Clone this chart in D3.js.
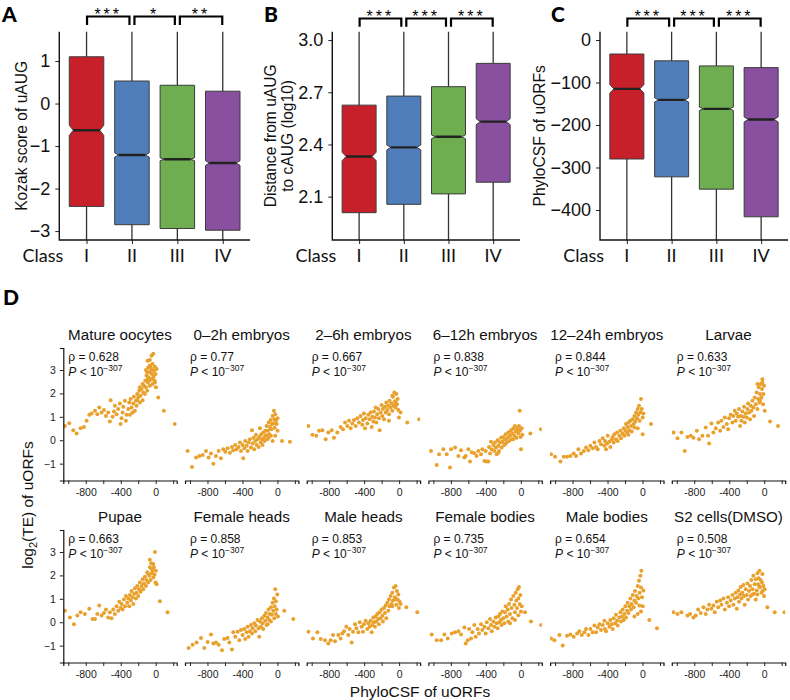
<!DOCTYPE html>
<html><head><meta charset="utf-8">
<script src="https://cdn.jsdelivr.net/npm/d3@7"></script>
<style>body{margin:0;background:#fff}svg{display:block}</style>
</head><body>
<script>
// ---------- Box panels data ----------
const classes = ["I","II","III","IV"];
const classColors = ["#C8202A","#4F7EBA","#6EAE51","#88509F"];

const kozakQ1 = [-2.42,-2.85,-2.94,-2.98];
const kozakMed = [-0.63,-1.21,-1.31,-1.40];
const kozakQ3 = [1.10,0.53,0.43,0.29];
const kozakNotch = [0.12,0.05,0.035,0.055];
const kozakWhiskerLo = [-4.0,-4.0,-4.0,-4.0];
const kozakWhiskerHi = [2.5,2.5,2.5,2.5];
const kozakTicks = [-3,-2,-1,0,1];
const kozakSig = ["***","*","**"];

const distQ1 = [2.008,2.056,2.116,2.183];
const distMed = [2.331,2.383,2.444,2.531];
const distQ3 = [2.626,2.678,2.732,2.866];
const distNotch = [0.024,0.014,0.011,0.017];
const distWhiskerLo = [1.5,1.5,1.5,1.5];
const distWhiskerHi = [3.5,3.5,3.5,3.5];
const distTicks = [2.1,2.4,2.7,3.0];
const distSig = ["***","***","***"];

const phyloQ1 = [-280,-322,-351,-416];
const phyloMed = [-115,-141,-162,-187];
const phyloQ3 = [-33,-49,-61,-65];
const phyloNotch = [10,5,4,6];
const phyloWhiskerLo = [-600,-600,-600,-600];
const phyloWhiskerHi = [100,100,100,100];
const phyloTicks = [-400,-300,-200,-100,0];
const phyloSig = ["***","***","***"];

// ---------- Scatter panels data ----------
const stageNames = ["Mature oocytes","0\u20132h embryos","2\u20136h embryos","6\u201312h embryos","12\u201324h embryos","Larvae",
  "Pupae","Female heads","Male heads","Female bodies","Male bodies","S2 cells(DMSO)"];
const rhoValues = ["0.628","0.77","0.667","0.838","0.844","0.633","0.663","0.858","0.853","0.735","0.654","0.508"];
const scatterXTicks = [-1000,-800,-600,-400,-200,0,200];
const scatterXLabels = [-800,-400,0];
const scatterYTicks = [-1,0,1,2,3];

const ptsMatureOocytes = [[-1038,0.61],[-989,0.73],[-943,0.43],[-905,0.29],[-859,0.51],[-821,0.57],[-790,0.83],[-760,1.09],[-733,1.14],[-695,1.26],[-668,1.11],[-646,1.4],[-619,1.19],[-592,1.29],[-569,1.04],[-543,1.19],[-524,0.8],[-516,1.71],[-493,1.0],[-478,1.23],[-467,1.47],[-448,1.11],[-429,1.33],[-410,1.57],[-402,0.69],[-390,0.94],[-379,1.19],[-371,1.43],[-352,1.69],[-341,0.83],[-333,1.09],[-314,1.33],[-303,1.61],[-295,1.09],[-288,1.76],[-276,1.4],[-265,1.19],[-257,1.57],[-250,1.86],[-238,1.26],[-227,1.69],[-219,1.47],[-211,1.97],[-200,1.83],[-189,2.11],[-181,1.61],[-173,1.9],[-162,2.19],[-150,1.71],[-143,2.04],[-135,2.33],[-124,1.97],[-120,2.54],[-112,2.26],[-105,2.76],[-97,2.11],[-90,2.47],[-86,3.11],[-82,2.69],[-74,2.9],[-67,2.33],[-67,3.19],[-59,2.61],[-51,3.0],[-48,3.61],[-44,2.83],[-36,2.4],[-36,3.26],[-28,2.69],[-28,3.69],[-21,2.97],[-13,2.54],[-9,3.14],[-2,2.83],[2,2.26],[10,3.04],[29,1.83],[93,1.26],[219,0.69],[-112,3.0],[-97,2.9],[-74,2.54],[-59,3.11],[-44,2.61],[-21,2.76],[-9,2.47],[-94,3.4],[-67,3.43],[-44,3.04],[-97,2.57],[-150,2.4],[-181,2.26],[-211,1.71]];
const ptsEmb0to2 = [[-1027,-0.46],[-977,-1.14],[-931,-0.74],[-893,-0.67],[-855,-0.63],[-817,-0.46],[-787,-0.74],[-760,-0.57],[-733,-1.0],[-703,-0.67],[-672,-0.46],[-646,-0.77],[-619,-0.39],[-596,-0.49],[-570,-0.34],[-543,-0.53],[-520,-0.29],[-505,-0.43],[-482,-0.2],[-467,-0.39],[-444,-0.29],[-429,-0.1],[-417,-0.46],[-398,-0.2],[-391,-0.77],[-379,-0.34],[-368,-0.03],[-352,-0.24],[-341,-0.46],[-330,-0.1],[-314,0.04],[-303,-0.31],[-291,0.43],[-284,-0.14],[-272,0.11],[-265,-0.39],[-253,-0.03],[-246,0.23],[-238,-0.2],[-227,0.04],[-215,-0.29],[-208,0.14],[-200,0.51],[-192,-0.1],[-185,0.26],[-177,0.04],[-170,-0.2],[-162,0.33],[-154,0.11],[-147,-0.03],[-139,0.4],[-131,0.21],[-124,0.61],[-116,0.04],[-109,0.4],[-101,0.76],[-93,0.26],[-86,0.57],[-78,0.86],[-70,0.47],[-63,0.69],[-55,1.04],[-48,0.71],[-40,1.26],[-36,0.9],[-32,0.53],[-25,1.11],[-17,0.83],[-9,0.69],[2,0.94],[-25,0.19],[-55,-0.03],[-101,0.11],[52,-0.03],[143,-0.06],[2,0.4],[-74,0.19]];
const ptsEmb2to6 = [[-1038,0.61],[-992,0.23],[-947,0.19],[-916,0.4],[-878,0.43],[-840,0.04],[-810,0.33],[-771,0.43],[-745,0.11],[-707,0.33],[-669,0.57],[-642,0.47],[-619,0.76],[-592,0.61],[-573,0.83],[-554,0.51],[-535,0.71],[-516,0.86],[-497,0.61],[-478,0.94],[-459,0.76],[-440,1.04],[-421,0.66],[-413,0.86],[-402,1.14],[-390,0.51],[-383,0.94],[-364,0.71],[-352,1.09],[-337,0.9],[-326,1.19],[-314,0.57],[-307,1.0],[-295,0.8],[-288,1.23],[-276,0.97],[-269,1.4],[-261,0.76],[-250,1.11],[-238,1.33],[-231,0.94],[-223,0.43],[-211,1.19],[-200,1.51],[-192,1.04],[-185,1.33],[-173,0.9],[-162,1.43],[-154,1.19],[-147,1.61],[-135,1.29],[-124,1.47],[-116,1.11],[-109,1.69],[-97,1.4],[-86,1.57],[-78,1.26],[-70,1.86],[-63,1.47],[-55,2.04],[-48,1.66],[-40,1.4],[-32,1.97],[-25,1.54],[-17,1.76],[-9,1.29],[-2,0.97],[17,1.19],[93,0.76],[230,0.9],[-116,0.83],[-78,1.9],[-40,1.61]];
const ptsEmb6to12 = [[-1027,-0.46],[-962,-1.06],[-935,-0.6],[-886,-0.39],[-848,-0.6],[-810,-1.17],[-798,-0.39],[-752,-0.31],[-714,-0.67],[-684,-0.43],[-646,-0.74],[-630,-0.67],[-600,-0.39],[-581,-0.91],[-562,-0.51],[-532,-0.56],[-505,-0.67],[-486,-0.46],[-455,-0.6],[-440,-0.39],[-417,-0.89],[-402,-0.46],[-390,-0.91],[-371,-0.91],[-364,-0.29],[-352,-0.57],[-341,-0.06],[-333,-0.39],[-314,-0.2],[-303,-0.46],[-295,-0.1],[-284,-0.31],[-276,-0.6],[-265,0.0],[-257,-0.24],[-250,-0.46],[-238,-0.1],[-227,0.11],[-219,-0.31],[-211,-0.06],[-200,0.14],[-189,-0.2],[-181,0.04],[-173,0.26],[-162,-0.1],[-150,0.11],[-143,0.33],[-135,-0.03],[-124,0.19],[-112,0.43],[-105,0.04],[-97,0.29],[-86,0.51],[-74,0.19],[-67,0.61],[-59,0.37],[-48,0.11],[-36,0.51],[-28,0.29],[-21,0.61],[-13,1.26],[-9,0.4],[-2,0.14],[10,0.51],[17,0.23],[2,-0.39],[109,0.29],[230,0.47],[-86,0.04],[-48,0.4],[-181,-0.17],[-257,-0.53]];
const ptsEmb12to24 = [[-1046,-0.6],[-1000,-0.71],[-939,-0.91],[-901,-0.71],[-863,-0.71],[-825,-0.67],[-787,-0.57],[-760,-0.67],[-733,-0.39],[-703,-0.57],[-672,-0.46],[-646,-0.31],[-619,-0.43],[-596,-0.24],[-570,-0.34],[-550,-0.1],[-531,-0.29],[-512,-0.39],[-493,-0.03],[-474,-0.17],[-455,0.09],[-436,-0.24],[-429,-0.03],[-417,-0.39],[-406,-0.14],[-398,0.19],[-379,-0.06],[-368,-0.29],[-352,0.04],[-341,0.14],[-330,-0.1],[-322,0.26],[-303,0.04],[-291,0.33],[-284,-0.03],[-265,0.19],[-253,0.4],[-246,0.09],[-227,0.29],[-215,0.51],[-208,0.19],[-196,0.4],[-189,0.69],[-177,0.33],[-170,0.57],[-158,0.76],[-150,0.43],[-139,0.83],[-131,0.61],[-124,0.37],[-112,0.9],[-101,0.69],[-93,1.04],[-82,0.8],[-74,1.19],[-63,0.94],[-55,1.33],[-48,1.09],[-40,1.47],[-32,0.83],[-25,1.19],[-17,1.76],[-9,1.33],[2,0.97],[10,1.14],[2,0.26],[-55,0.51],[97,0.69],[-93,0.54],[-162,0.23]];
const ptsLarvae = [[-1038,0.33],[-992,0.09],[-947,0.33],[-909,-0.46],[-878,0.14],[-840,0.19],[-810,0.11],[-771,0.4],[-745,0.04],[-707,0.19],[-669,0.54],[-642,0.19],[-630,-0.14],[-604,0.71],[-581,0.33],[-554,0.51],[-527,0.76],[-504,0.4],[-489,0.83],[-466,0.57],[-451,0.97],[-428,0.69],[-413,0.47],[-402,0.94],[-383,1.09],[-364,0.76],[-352,1.04],[-337,1.26],[-326,0.83],[-314,1.14],[-299,1.0],[-288,1.33],[-276,0.61],[-269,1.04],[-261,0.83],[-250,1.23],[-238,1.0],[-231,1.43],[-223,0.76],[-211,1.14],[-200,0.97],[-192,1.33],[-185,1.57],[-173,1.19],[-162,0.9],[-154,1.47],[-147,1.26],[-135,1.69],[-124,1.4],[-116,1.04],[-109,1.83],[-97,1.54],[-86,2.04],[-78,1.33],[-70,1.76],[-63,2.26],[-55,1.61],[-48,1.97],[-40,2.4],[-32,1.83],[-25,2.19],[-21,2.61],[-13,1.54],[-9,1.97],[-2,2.33],[6,1.26],[67,0.8],[158,0.61],[-78,2.4],[-48,1.69],[-21,2.47]];
const ptsPupae = [[-1038,0.49],[-981,0.2],[-935,-0.09],[-897,0.29],[-859,0.43],[-810,0.35],[-760,0.58],[-722,0.14],[-695,0.14],[-668,0.35],[-646,0.72],[-619,0.29],[-592,0.39],[-569,0.54],[-543,0.2],[-524,0.43],[-505,0.17],[-486,0.54],[-467,0.35],[-448,0.68],[-429,0.49],[-417,0.87],[-402,0.61],[-390,0.78],[-379,0.54],[-364,0.97],[-352,0.68],[-341,1.12],[-326,0.83],[-314,1.01],[-303,0.68],[-295,1.16],[-284,0.93],[-276,1.33],[-265,1.07],[-257,0.78],[-246,1.22],[-238,1.45],[-227,1.01],[-219,1.26],[-211,1.55],[-200,1.12],[-189,1.41],[-181,1.7],[-173,1.3],[-162,1.55],[-150,1.84],[-143,1.41],[-135,1.65],[-124,1.94],[-112,1.55],[-105,1.8],[-97,2.13],[-86,1.7],[-74,1.99],[-67,2.35],[-59,1.8],[-51,2.52],[-44,2.09],[-36,2.2],[-28,1.91],[-21,2.35],[-13,2.03],[-9,3.0],[-2,1.7],[2,2.2],[10,1.62],[48,0.9],[135,0.43],[-67,2.67],[-48,2.28],[-86,2.06],[-28,2.49]];
const ptsFemaleHeads = [[-1015,-1.1],[-970,-0.96],[-924,-0.87],[-874,-0.67],[-836,-1.1],[-798,-0.84],[-760,-0.52],[-733,-0.91],[-703,-0.87],[-672,-0.96],[-634,-1.2],[-608,-0.72],[-570,-0.67],[-550,-0.87],[-520,-1.16],[-505,-0.43],[-482,-0.62],[-455,-0.41],[-436,-0.77],[-417,-0.33],[-398,-0.55],[-379,-0.29],[-368,-0.72],[-352,-0.43],[-341,-0.19],[-330,-0.62],[-314,-0.38],[-303,-0.12],[-291,-0.48],[-284,-0.26],[-265,-0.04],[-253,-0.38],[-246,-0.14],[-227,0.1],[-215,-0.26],[-208,-0.62],[-200,0.03],[-189,-0.19],[-177,0.17],[-170,-0.04],[-162,-0.29],[-150,0.28],[-139,0.06],[-131,0.39],[-124,-0.12],[-112,0.2],[-101,0.54],[-93,0.1],[-86,0.35],[-74,0.64],[-63,0.32],[-55,0.83],[-48,0.49],[-40,1.01],[-32,0.68],[-25,1.41],[-17,0.9],[-9,0.54],[-2,1.19],[6,0.25],[-36,0.17],[78,0.49],[181,0.14],[-74,0.03],[-112,-0.09],[-17,0.35]];
const ptsMaleHeads = [[-1038,-0.41],[-985,-0.7],[-935,-0.43],[-897,-0.72],[-848,-0.77],[-810,-0.91],[-783,-0.77],[-756,-0.55],[-733,-0.81],[-695,-0.55],[-669,-0.7],[-650,-0.48],[-630,-0.38],[-604,-0.19],[-581,-0.55],[-566,-0.29],[-543,-0.87],[-527,-0.41],[-504,-0.09],[-489,-0.26],[-466,-0.43],[-451,0.0],[-428,-0.19],[-413,-0.41],[-402,-0.09],[-383,0.06],[-364,-0.29],[-352,-0.04],[-337,-0.19],[-326,0.06],[-314,-0.43],[-307,-0.12],[-295,0.2],[-288,0.0],[-276,-0.19],[-269,0.25],[-261,0.03],[-250,0.35],[-238,0.14],[-231,-0.09],[-223,0.43],[-211,0.17],[-200,0.54],[-192,0.28],[-185,0.03],[-173,0.61],[-162,0.39],[-154,0.72],[-147,0.17],[-135,0.83],[-124,0.49],[-116,0.97],[-109,0.68],[-97,1.12],[-86,0.78],[-78,1.26],[-70,0.93],[-59,1.48],[-48,1.07],[-40,1.55],[-32,0.75],[-25,1.33],[-17,0.97],[-9,1.19],[-2,0.61],[6,0.87],[82,0.64],[208,0.43],[-78,0.68],[-40,0.97],[17,0.78]];
const ptsFemaleBodies = [[-1019,-0.52],[-962,-0.77],[-912,-0.77],[-874,-0.52],[-836,-0.7],[-790,-0.48],[-752,-0.43],[-714,-0.38],[-684,-0.52],[-646,-0.23],[-630,-0.91],[-607,-0.77],[-592,-0.29],[-569,-0.7],[-554,-0.43],[-532,-0.12],[-516,-0.62],[-493,-0.29],[-478,-0.48],[-455,-0.09],[-440,-0.33],[-417,-0.19],[-402,-0.48],[-390,0.0],[-371,-0.26],[-352,0.14],[-341,-0.12],[-333,-0.38],[-314,0.03],[-303,-0.19],[-288,0.2],[-276,-0.04],[-265,-0.26],[-257,0.25],[-246,0.0],[-238,0.35],[-227,0.1],[-219,-0.12],[-211,0.46],[-200,0.17],[-189,-0.04],[-181,0.43],[-173,0.68],[-162,0.25],[-150,0.54],[-143,0.03],[-135,0.78],[-124,0.35],[-112,0.97],[-105,0.61],[-97,0.17],[-86,1.12],[-74,0.75],[-67,0.43],[-59,1.26],[-51,0.93],[-44,0.61],[-36,1.41],[-28,1.01],[-21,1.51],[-13,0.78],[-6,1.16],[2,0.46],[10,0.68],[48,0.43],[116,0.03],[232,-0.12],[-67,0.1],[-124,-0.04],[-28,0.3]];
const ptsMaleBodies = [[-1046,-0.7],[-1008,-0.77],[-950,-0.55],[-912,-0.99],[-863,-0.58],[-825,-0.52],[-787,-0.62],[-748,-0.48],[-722,-0.38],[-695,-0.55],[-665,-0.43],[-646,-0.29],[-619,-0.55],[-596,-0.29],[-570,-0.43],[-550,-0.14],[-531,-0.43],[-512,-0.23],[-493,-0.09],[-474,-0.33],[-455,-0.12],[-436,0.06],[-429,-0.29],[-417,-0.38],[-398,-0.04],[-379,-0.19],[-368,0.1],[-352,-0.09],[-341,-0.29],[-330,0.17],[-314,-0.04],[-303,0.32],[-291,0.06],[-284,-0.14],[-265,0.2],[-253,0.43],[-246,0.03],[-234,0.25],[-227,0.54],[-215,0.1],[-208,0.35],[-196,0.68],[-189,0.2],[-177,0.49],[-170,0.83],[-162,0.39],[-150,0.68],[-139,1.01],[-131,0.54],[-124,0.78],[-112,1.16],[-101,0.64],[-93,0.93],[-86,1.33],[-74,0.83],[-67,1.12],[-55,1.55],[-48,1.01],[-40,1.77],[-32,1.26],[-25,1.99],[-17,1.48],[-13,2.2],[-6,1.07],[2,0.68],[10,1.36],[-17,0.46],[78,0.1],[166,-0.26],[-55,0.35],[-93,0.25],[-36,0.72]];
const ptsS2Cells = [[-1038,0.43],[-992,0.35],[-947,0.43],[-878,0.29],[-848,0.35],[-810,0.2],[-783,0.29],[-756,0.54],[-726,0.39],[-695,0.64],[-669,0.35],[-650,0.54],[-630,0.75],[-604,0.58],[-581,0.72],[-566,0.43],[-543,0.87],[-527,0.64],[-504,0.93],[-489,0.75],[-466,1.01],[-451,0.54],[-428,0.83],[-413,1.07],[-402,0.68],[-383,0.93],[-364,1.16],[-352,0.75],[-337,1.01],[-326,1.26],[-314,0.58],[-307,1.07],[-295,1.36],[-288,0.87],[-276,1.19],[-269,1.51],[-261,1.01],[-250,1.26],[-238,1.59],[-231,1.12],[-223,0.75],[-211,1.41],[-200,1.16],[-192,1.65],[-185,0.97],[-173,1.33],[-162,1.55],[-154,1.12],[-147,1.8],[-135,1.41],[-124,1.99],[-116,1.22],[-109,1.62],[-97,1.84],[-86,1.36],[-78,2.09],[-70,1.62],[-63,1.88],[-55,2.2],[-48,1.48],[-40,1.8],[-32,1.26],[-25,1.7],[-21,2.06],[-17,1.33],[-9,1.55],[-2,1.12],[6,1.41],[36,0.64],[120,0.43],[232,0.43],[-78,1.19],[-59,1.55],[-97,0.97],[-135,1.19]];
const stagePoints = [ptsMatureOocytes,ptsEmb0to2,ptsEmb2to6,ptsEmb6to12,ptsEmb12to24,ptsLarvae,
  ptsPupae,ptsFemaleHeads,ptsMaleHeads,ptsFemaleBodies,ptsMaleBodies,ptsS2Cells];

// ---------- Drawing ----------
const W = 790, H = 700;
const SANS = "'Liberation Sans', Arial, Helvetica, sans-serif";
const HUM = "Lato, 'Open Sans', sans-serif";
const svg = d3.select("body").append("svg").attr("width", W).attr("height", H)
  .style("font-family", SANS);
const defs = svg.append("defs");
const minus = s => String(s).replace("-", "\u2212");

function boxPanel(cfg) {
  const {id, left, right, top, bottom, domain, ticks, fmt, q1, med, q3, notch, wLo, wHi, sig,
    letter, letterX, labels, labelX, bracketY, legY, starY} = cfg;
  const x = d3.scalePoint().domain(classes).range([left, right]).padding(0.6);
  const y = d3.scaleLinear().domain(domain).range([bottom, top]);
  const step = x.step(), bw = step * 0.76, inset = 4;
  defs.append("clipPath").attr("id", id).append("rect")
    .attr("x", left).attr("y", top).attr("width", right - left).attr("height", bottom - top);
  const g = svg.append("g");
  const plot = g.append("g").attr("clip-path", `url(#${id})`);
  classes.forEach((c, i) => {
    const cx = x(c);
    plot.append("line").attr("x1", cx).attr("x2", cx).attr("y1", y(wHi[i])).attr("y2", y(wLo[i]))
      .attr("stroke", "#333").attr("stroke-width", 1.3);
    const xl = cx - bw / 2, xr = cx + bw / 2;
    const p = d3.path();
    p.moveTo(xl, y(q3[i])); p.lineTo(xl, y(med[i] + notch[i])); p.lineTo(xl + inset, y(med[i]));
    p.lineTo(xl, y(med[i] - notch[i])); p.lineTo(xl, y(q1[i])); p.lineTo(xr, y(q1[i]));
    p.lineTo(xr, y(med[i] - notch[i])); p.lineTo(xr - inset, y(med[i])); p.lineTo(xr, y(med[i] + notch[i]));
    p.lineTo(xr, y(q3[i])); p.closePath();
    plot.append("path").attr("d", p.toString()).attr("fill", classColors[i])
      .attr("stroke", "#3c3c3c").attr("stroke-width", 1);
    plot.append("line").attr("x1", xl + inset).attr("x2", xr - inset).attr("y1", y(med[i])).attr("y2", y(med[i]))
      .attr("stroke", "#222").attr("stroke-width", 2.4);
  });
  const ya = g.append("g").attr("transform", `translate(${left},0)`)
    .call(d3.axisLeft(y).tickValues(ticks).tickSize(4).tickPadding(5).tickFormat(d => minus(fmt(d))));
  ya.select(".domain").remove();
  ya.selectAll("text").attr("font-size", 18).attr("font-family", SANS).attr("fill", "#111");
  ya.selectAll("line").attr("stroke", "#222");
  const xa = g.append("g").attr("transform", `translate(0,${bottom})`)
    .call(d3.axisBottom(x).tickSize(4).tickFormat(""));
  xa.select(".domain").remove();
  xa.selectAll("line").attr("stroke", "#222");
  g.append("path").attr("d", `M${left},${top}V${bottom}H${right}`).attr("fill", "none")
    .attr("stroke", "#111").attr("stroke-width", 1.4);
  classes.forEach(c => {
    g.append("text").attr("x", x(c)).attr("y", 261.5).attr("text-anchor", "middle")
      .attr("font-family", HUM).attr("font-size", 18).attr("fill", "#111").text(c);
  });
  g.append("text").attr("x", left + 4).attr("y", 261.5).attr("text-anchor", "end")
    .attr("font-family", HUM).attr("font-size", 18).attr("fill", "#111").text("Class");
  labels.forEach((t, k) => {
    g.append("text").attr("transform", `translate(${labelX[k]},${(top + bottom) / 2}) rotate(-90)`)
      .attr("text-anchor", "middle").attr("font-size", 15.6).attr("fill", "#111").text(t);
  });
  g.append("text").attr("x", letterX).attr("y", 22).attr("font-family", HUM).attr("font-weight", 900)
    .attr("font-size", 21).attr("fill", "#000").text(letter);
  sig.forEach((s, i) => {
    const x1 = x(classes[i]) + (i === 0 ? 0.5 : 2.5);
    const x2 = x(classes[i + 1]) - (i + 1 === 3 ? 0.5 : 2.5);
    g.append("path").attr("d", `M${x1},${legY}V${bracketY}H${x2}V${legY}`).attr("fill", "none")
      .attr("stroke", "#000").attr("stroke-width", 2.2);
    g.append("text").attr("x", (x1 + x2) / 2).attr("y", starY).attr("text-anchor", "middle")
      .attr("font-size", 16).attr("letter-spacing", 3).attr("fill", "#000").text(s);
  });
}

boxPanel({id: "cA", left: 59.3, right: 250, top: 31.7, bottom: 240, domain: [-3.21, 1.69], ticks: kozakTicks,
  fmt: d3.format("d"), q1: kozakQ1, med: kozakMed, q3: kozakQ3, notch: kozakNotch, wLo: kozakWhiskerLo, wHi: kozakWhiskerHi,
  sig: kozakSig, letter: "A", letterX: 2, labels: ["Kozak score of uAUG"], labelX: [26.5], bracketY: 16.5, legY: 25, starY: 20});
boxPanel({id: "cB", left: 332.3, right: 520, top: 31.7, bottom: 240, domain: [1.851, 3.048], ticks: distTicks,
  fmt: d3.format(".1f"), q1: distQ1, med: distMed, q3: distQ3, notch: distNotch, wLo: distWhiskerLo, wHi: distWhiskerHi,
  sig: distSig, letter: "B", letterX: 264, labels: ["Distance from uAUG", "to cAUG (log10)"], labelX: [275.5, 293],
  bracketY: 18.5, legY: 26.7, starY: 22});
boxPanel({id: "cC", left: 600, right: 788, top: 31.7, bottom: 240, domain: [-470.6, 19.5], ticks: phyloTicks,
  fmt: d3.format("d"), q1: phyloQ1, med: phyloMed, q3: phyloQ3, notch: phyloNotch, wLo: phyloWhiskerLo, wHi: phyloWhiskerHi,
  sig: phyloSig, letter: "C", letterX: 551, labels: ["PhyloCSF of uORFs"], labelX: [545], bracketY: 18.5, legY: 26.7, starY: 21.5});

// ---------- Scatter grid ----------
const colLeft0 = 63.3, colPitch = 121.7, colW = 113.4;
const rowTops = [348, 530], rowH = 132.5;
stagePoints.forEach((pts, k) => {
  const r = Math.floor(k / 6), c = k % 6;
  const left = colLeft0 + c * colPitch, top = rowTops[r], bottom = top + rowH;
  const sx = d3.scaleLinear().domain([-1057, 240]).range([left, left + colW]);
  const sy = d3.scaleLinear().domain([-1.72, 3.94]).range([bottom, top]);
  const id = "cs" + k;
  defs.append("clipPath").attr("id", id).append("rect")
    .attr("x", left).attr("y", top - 4).attr("width", colW).attr("height", rowH + 4);
  const g = svg.append("g");
  g.append("g").attr("clip-path", `url(#${id})`).selectAll("circle").data(pts).join("circle")
    .attr("cx", d => sx(d[0])).attr("cy", d => sy(d[1])).attr("r", 2)
    .attr("fill", "#E9A12E");
  const xa = g.append("g").attr("transform", `translate(0,${bottom})`)
    .call(d3.axisBottom(sx).tickValues(scatterXTicks).tickSize(3.5).tickPadding(4.5)
      .tickFormat(d => scatterXLabels.includes(d) ? String(d) : ""));
  xa.select(".domain").attr("stroke", "#111").attr("stroke-width", 1.2);
  xa.selectAll("line").attr("stroke", "#222");
  xa.selectAll("text").attr("font-size", 10.5).attr("font-family", SANS).attr("fill", "#222");
  if (c === 0) {
    const ya = g.append("g").attr("transform", `translate(${left},0)`)
      .call(d3.axisLeft(sy).tickValues(scatterYTicks).tickSize(3.5).tickPadding(4).tickFormat(d => String(d).replace("-", "\u2212")));
    ya.select(".domain").attr("stroke", "#111").attr("stroke-width", 1.2);
    ya.selectAll("line").attr("stroke", "#222");
    ya.selectAll("text").attr("font-size", 10.5).attr("font-family", SANS).attr("fill", "#222");
  }
  g.append("text").attr("x", left + colW / 2).attr("y", top - 8).attr("text-anchor", "middle")
    .attr("font-size", 15.2).attr("fill", "#111").text(stageNames[k]);
  g.append("text").attr("x", left + 5).attr("y", top + 12.5).attr("font-size", 12).attr("fill", "#111")
    .text("\u03C1 = " + rhoValues[k]);
  const pt = g.append("text").attr("x", left + 5).attr("y", top + 28).attr("font-size", 12).attr("fill", "#111");
  pt.append("tspan").attr("font-style", "italic").text("P");
  pt.append("tspan").text(" < 10");
  pt.append("tspan").attr("dy", -5.5).attr("font-size", 8.5).text("\u2212307");
});

svg.append("text").attr("x", 3).attr("y", 305).attr("font-family", HUM).attr("font-weight", 900)
  .attr("font-size", 21).text("D");
const yl = svg.append("text").attr("transform", `translate(33,505) rotate(-90)`).attr("text-anchor", "middle")
  .attr("font-size", 15.5).attr("fill", "#111");
yl.append("tspan").text("log");
yl.append("tspan").attr("font-size", 11).attr("dy", 4).text("2");
yl.append("tspan").attr("dy", -4).text("(TE) of uORFs");
svg.append("text").attr("x", 420).attr("y", 697).attr("text-anchor", "middle").attr("font-size", 15.5)
  .attr("fill", "#111").text("PhyloCSF of uORFs");
</script>
</body></html>
